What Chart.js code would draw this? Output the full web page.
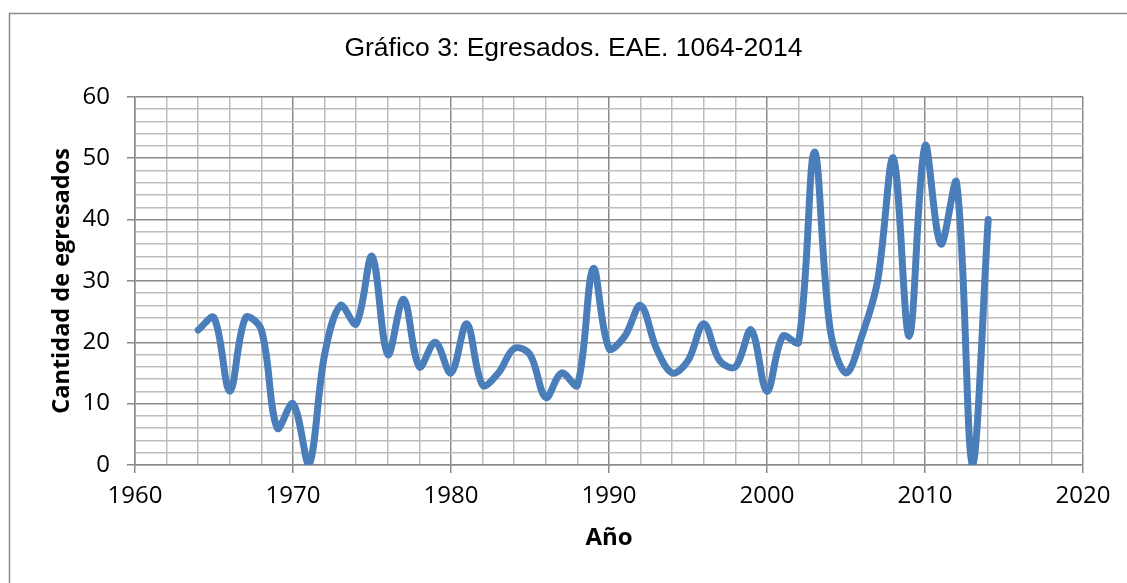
<!DOCTYPE html>
<html>
<head>
<meta charset="utf-8">
<script src="https://cdn.jsdelivr.net/npm/chart.js@4/dist/chart.umd.min.js"></script>
<style>
  body { margin: 0; background: #fff; }
  #wrap { width: 1127px; height: 583px; }
</style>
</head>
<body>
<div id="wrap"><canvas id="egresadosChart" width="1127" height="583"></canvas></div>
<script>
// Datos
const years = [1964, 1965, 1966, 1967, 1968, 1969, 1970, 1971, 1972, 1973,
  1974, 1975, 1976, 1977, 1978, 1979, 1980, 1981, 1982, 1983,
  1984, 1985, 1986, 1987, 1988, 1989, 1990, 1991, 1992, 1993,
  1994, 1995, 1996, 1997, 1998, 1999, 2000, 2001, 2002, 2003,
  2004, 2005, 2006, 2007, 2008, 2009, 2010, 2011, 2012, 2013, 2014];
const egresados = [22, 24, 12, 24, 22, 6, 10, 0, 18, 26,
  23, 34, 18, 27, 16, 20, 15, 23, 13, 15,
  19, 18, 11, 15, 13, 32, 19, 21, 26, 19,
  15, 17, 23, 17, 16, 22, 12, 21, 20, 51,
  22, 15, 21, 30, 50, 21, 52, 36, 46, 0, 40];
const chartTitle = 'Gráfico 3: Egresados. EAE. 1064-2014';
const xTitle = 'Año';
const yTitle = 'Cantidad de egresados';

const MAJOR = '#8a8a8a';
const MINOR = '#bdbdbd';

// Marco exterior del gráfico
const frame = {
  id: 'frame',
  beforeDraw(chart) {
    const ctx = chart.ctx;
    ctx.save();
    ctx.fillStyle = '#fff';
    ctx.fillRect(0, 0, chart.width, chart.height);
    ctx.strokeStyle = '#8c8c8c';
    ctx.lineWidth = 1.5;
    ctx.strokeRect(9.5, 13.5, 1300, 700);
    ctx.restore();
  }
};

function gridColor(step) {
  return ctx => (ctx.tick && ctx.tick.value % step === 0) ? MAJOR : MINOR;
}
function tickMarkColor(step) {
  return ctx => (ctx.tick && ctx.tick.value % step === 0) ? MAJOR : 'rgba(0,0,0,0)';
}

const ctx = document.getElementById('egresadosChart').getContext('2d');
new Chart(ctx, {
  type: 'line',
  data: {
    datasets: [{
      data: years.map((y, i) => ({ x: y, y: egresados[i] })),
      borderColor: '#4a7ebb',
      borderWidth: 7,
      borderCapStyle: 'round',
      borderJoinStyle: 'round',
      pointRadius: 0,
      tension: 0.35,
      fill: false
    }]
  },
  options: {
    responsive: false,
    animation: false,
    layout: { padding: { left: 64, right: 44, top: 33, bottom: 30 } },
    plugins: {
      legend: { display: false },
      tooltip: { enabled: false },
      title: {
        display: true,
        text: chartTitle,
        color: '#000',
        font: { family: 'Liberation Sans', size: 26.5, weight: 'normal' },
        padding: { top: 0, bottom: 32 }
      }
    },
    scales: {
      x: {
        type: 'linear',
        min: 1960,
        max: 2020,
        afterFit: s => { s.height = 88; },
        grid: { color: gridColor(10), lineWidth: 1.5, tickLength: 8, tickColor: tickMarkColor(10), tickWidth: 1.5 },
        border: { color: MAJOR, width: 1.5 },
        ticks: {
          stepSize: 2,
          autoSkip: false,
          maxRotation: 0,
          padding: 9,
          color: '#000',
          font: { family: 'Open Sans', size: 24 },
          callback: v => (v % 10 === 0 ? String(v) : '')
        },
        title: {
          display: true,
          text: xTitle,
          color: '#000',
          padding: 0,
          font: { family: 'Open Sans', size: 24, weight: 'bold' }
        }
      },
      y: {
        min: 0,
        max: 60,
        afterFit: s => { s.width = 71; },
        grid: { color: gridColor(10), lineWidth: 1.5, tickLength: 8, tickColor: tickMarkColor(10), tickWidth: 1.5 },
        border: { color: MAJOR, width: 1.5 },
        ticks: {
          stepSize: 2,
          autoSkip: false,
          padding: 17,
          color: '#000',
          font: { family: 'Open Sans', size: 24 },
          callback: v => (v % 10 === 0 ? String(v) : '')
        },
        title: {
          display: true,
          text: yTitle,
          color: '#000',
          padding: { top: -16, bottom: 0 },
          font: { family: 'Open Sans', size: 23.5, weight: 'bold' }
        }
      }
    }
  },
  plugins: [frame]
});
</script>
</body>
</html>
